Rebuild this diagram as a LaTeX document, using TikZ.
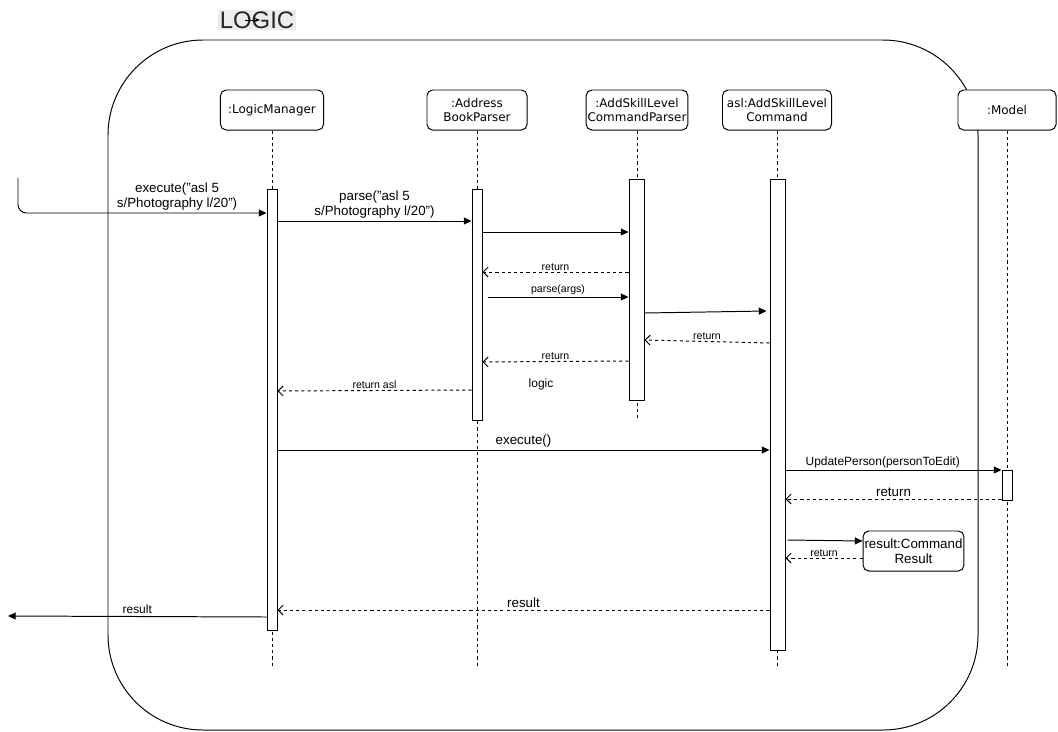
\documentclass[tikz,border=0pt]{standalone}
\usepackage{fontspec}
\setmainfont{Liberation Sans}
\newfontfamily\hdrfont{DejaVu Sans}
\usetikzlibrary{arrows.meta,positioning,calc}

\begin{document}
\begin{tikzpicture}[
    x=0.025cm, y=-0.025cm, line width=0.7pt,
    hdr/.style={draw, rounded corners=4pt, fill=white, minimum height=1cm, minimum width=2.5cm, inner sep=1pt, align=center, font=\hdrfont\fontsize{8.5}{10}\selectfont},
    act/.style={draw, fill=white, inner sep=0pt, minimum width=0.25cm},
    life/.style={dash pattern=on 2.2pt off 2.2pt},
    msg/.style={-{Triangle[length=5.5pt, width=5pt]}},
    ret/.style={dash pattern=on 2.2pt off 2.2pt, -{Straight Barb[length=3.5pt, width=7pt]}},
    lbl/.style={font=\fontsize{9.5}{11}\selectfont, align=center, inner sep=1.5pt},
    slbl/.style={font=\fontsize{7.5}{9}\selectfont, inner sep=1pt}
]
\useasboundingbox (0,0) rectangle (1058,731);

% frame
\draw[rounded corners=2.375cm] (108,40) rectangle (978,730);
\node[fill=gray!15, text=black!85, inner sep=1pt, font=\fontsize{17}{20}\selectfont] (title) at (257,20) {LOGIC};
\coordinate (tA) at (245,20);
\coordinate (tB) at (260,20);
\draw[-{Stealth[length=4pt]}, line width=0.5pt] (tA) -- (tB);

% lifelines
\node[hdr, minimum width=2.575cm] (lm) at (272,110) {:LogicManager};
\node[hdr] (ab) at (477,110) {:Address\\BookParser};
\node[hdr] (cp) at (637,110) {:AddSkillLevel\\CommandParser};
\node[hdr, minimum width=2.725cm] (cmd) at (777,110) {asl:AddSkillLevel\\Command};
\node[hdr, minimum width=2.45cm] (md) at (1007,110) {:Model};

\draw[life] (lm) -- (lm |- 0,667);
\draw[life] (ab) -- (ab |- 0,667);
\draw[life] (cp) -- (cp |- 0,420);
\draw[life] (cmd) -- (cmd |- 0,667);
\draw[life] (md) -- (md |- 0,667);

% activations
\node[act, minimum height=11cm] (lmA) at (272,410) {};
\node[act, minimum height=5.75cm] (abA) at (477,305) {};
\node[act, minimum width=0.375cm, minimum height=5.5cm] (cpA) at (636.5,290) {};
\node[act, minimum width=0.375cm, minimum height=11.75cm] (cmdA) at (777.5,415) {};
\node[act, minimum height=0.75cm] (mdA) at (1007,485) {};

\node[hdr, minimum width=2.475cm, font=\fontsize{9.5}{11}\selectfont] (res) at (913.5,551) {result:Command\\Result};

% messages
\coordinate (src) at (18,178);
\draw[msg, rounded corners=6pt] (src) |- (lmA.west |- 0,213) node[lbl, above, pos=0.82] {execute("asl 5\\s/Photography l/20")};
\draw[msg] (lmA.east |- 0,221) -- (abA.west |- 0,221) node[lbl, above, midway] {parse("asl 5\\s/Photography l/20")};
\draw[msg] (abA.east |- 0,232) -- (cpA.west |- 0,232);
\draw[ret] (cpA.west |- 0,272) -- (abA.east |- 0,272) node[slbl, above, midway] {return};
\draw[msg] ($(abA.east |- 0,297)+(5,0)$) -- (cpA.west |- 0,297) node[slbl, above, midway] {parse(args)};
\draw[msg] (cpA.east |- 0,313) -- ($(cmdA.west |- 0,311)+(-3,0)$);
\draw[ret] (cmdA.west |- 0,343) -- (cpA.east |- 0,340) node[slbl, above, midway] {return};
\draw[ret] (cpA.west |- 0,361) -- (abA.east |- 0,362) node[slbl, above, midway] {return};
\draw[ret] (abA.west |- 0,390) -- (lmA.east |- 0,391) node[slbl, above, midway] {return asl};
\node[slbl, font=\fontsize{8.5}{10}\selectfont] (lg) at (541,384) {logic};
\draw[msg] (lmA.east |- 0,450) -- (cmdA.west |- 0,450) node[lbl, above, midway] {execute()};
\draw[msg] (cmdA.east |- 0,470) -- (mdA.west |- 0,470) node[slbl, font=\fontsize{8.5}{10}\selectfont, above, pos=0.45] {UpdatePerson(personToEdit)};
\draw[ret] (mdA.west |- 0,499) -- (cmdA.east |- 0,499) node[lbl, above, midway] {return};
\draw[msg] ($(cmdA.east |- 0,540)+(2,0)$) -- (res.west |- 0,541);
\draw[ret] (res.west |- 0,558) -- (cmdA.east |- 0,558) node[slbl, above, midway] {return};
\draw[ret] (cmdA.west |- 0,610) -- (lmA.east |- 0,610) node[lbl, above, midway] {result};
\coordinate (sink) at (8,616);
\draw[msg] (lmA.west |- 0,617) -- (sink) node[lbl, font=\fontsize{8.5}{10}\selectfont, above, midway] {result};
\end{tikzpicture}
\end{document}
